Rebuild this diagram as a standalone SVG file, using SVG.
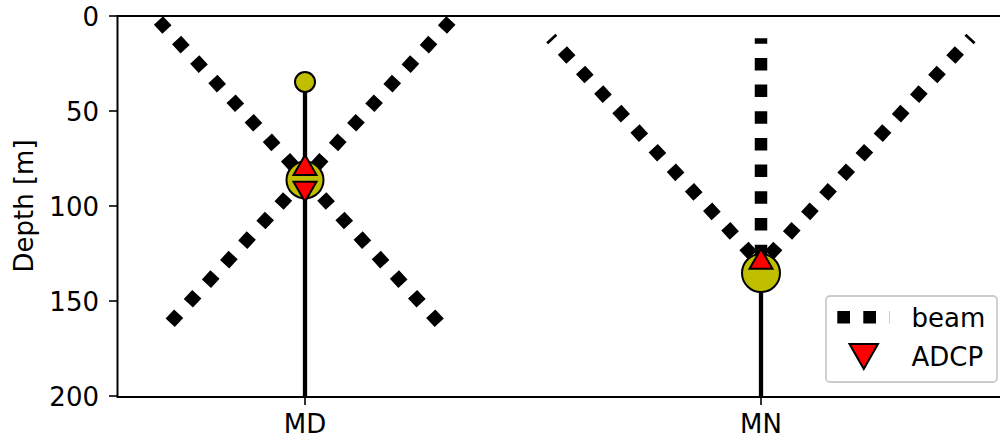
<svg xmlns="http://www.w3.org/2000/svg" width="1000" height="443" viewBox="0 0 1000 443">
<defs>
<style>
text{font-family:"DejaVu Sans","Liberation Sans",sans-serif;font-size:26px;fill:#000}
.beam{stroke:#000;stroke-width:12.5;stroke-dasharray:12.5 14.18;fill:none;stroke-linecap:butt}
.rope{stroke:#000;stroke-width:4.3;fill:none}
.buoy{fill:#bfbf00;stroke:#000;stroke-width:2}
.adcp{fill:#ff0000;stroke:#000;stroke-width:2;stroke-linejoin:miter}
.spine{stroke:#000;stroke-width:2;fill:none}
.tick{stroke:#000;stroke-width:1.6}
</style>
<clipPath id="ax"><rect x="117" y="16" width="883" height="380"/></clipPath>
</defs>
<rect width="1000" height="443" fill="#fff"/>
<g id="connectors" clip-path="url(#ax)">
<line class="beam" x1="158.45" y1="20.42" x2="439.25" y2="322.88"/>
<line class="beam" x1="450.95" y1="20.42" x2="170.2" y2="322.83"/>
<line class="beam" x1="752.45" y1="255.08" x2="550.8" y2="37.9"/>
<line class="beam" x1="769.35" y1="255.08" x2="970.99" y2="37.9"/>
<line class="beam" x1="761" y1="257.15" x2="761" y2="38.3"/>
<line class="rope" x1="305" y1="82" x2="305" y2="397"/>
<line class="rope" x1="761" y1="273" x2="761" y2="397"/>
</g>
<g id="MD">
<circle class="buoy" cx="305" cy="82" r="10"/>
<circle class="buoy" cx="305" cy="180" r="18.5"/>
<polygon class="adcp" points="305,155 293.5,175 316.5,175"/>
<polygon class="adcp" points="293.5,181.7 316.5,181.7 305,201.7"/>
</g>
<g id="MN">
<circle class="buoy" cx="761" cy="273" r="19"/>
<polygon class="adcp" points="761,248.8 749.5,268.8 772.5,268.8"/>
</g>
<g id="axes">
<line class="spine" x1="117" y1="16" x2="1000" y2="16"/>
<line class="spine" x1="117" y1="397" x2="1000" y2="397"/>
<line class="spine" x1="117.5" y1="15" x2="117.5" y2="398"/>
<line class="tick" x1="109" y1="16" x2="117" y2="16"/>
<line class="tick" x1="109" y1="111" x2="117" y2="111"/>
<line class="tick" x1="109" y1="206" x2="117" y2="206"/>
<line class="tick" x1="109" y1="301" x2="117" y2="301"/>
<line class="tick" x1="109" y1="396" x2="117" y2="396"/>
<line class="tick" x1="305" y1="397" x2="305" y2="405"/>
<line class="tick" x1="761" y1="397" x2="761" y2="405"/>
<text x="99" y="25.5" text-anchor="end">0</text>
<text x="99" y="120.5" text-anchor="end">50</text>
<text x="99" y="215.5" text-anchor="end">100</text>
<text x="99" y="310.5" text-anchor="end">150</text>
<text x="99" y="405.5" text-anchor="end">200</text>
<text x="305" y="433" text-anchor="middle">MD</text>
<text x="761" y="433" text-anchor="middle">MN</text>
<text transform="translate(32.5,206) rotate(-90)" text-anchor="middle">Depth [m]</text>
</g>
<g id="legend">
<rect x="826" y="296" width="171" height="86" rx="4" fill="#fff" fill-opacity="0.8" stroke="#cccccc" stroke-width="1.8"/>
<line class="beam" x1="837.3" y1="317.3" x2="889.5" y2="317.3" style="stroke-dasharray:12.7 13.3"/>
<text x="911.5" y="327">beam</text>
<polygon class="adcp" points="849.5,344 878,344 863.8,369"/>
<text x="911.5" y="366">ADCP</text>
</g>
</svg>
